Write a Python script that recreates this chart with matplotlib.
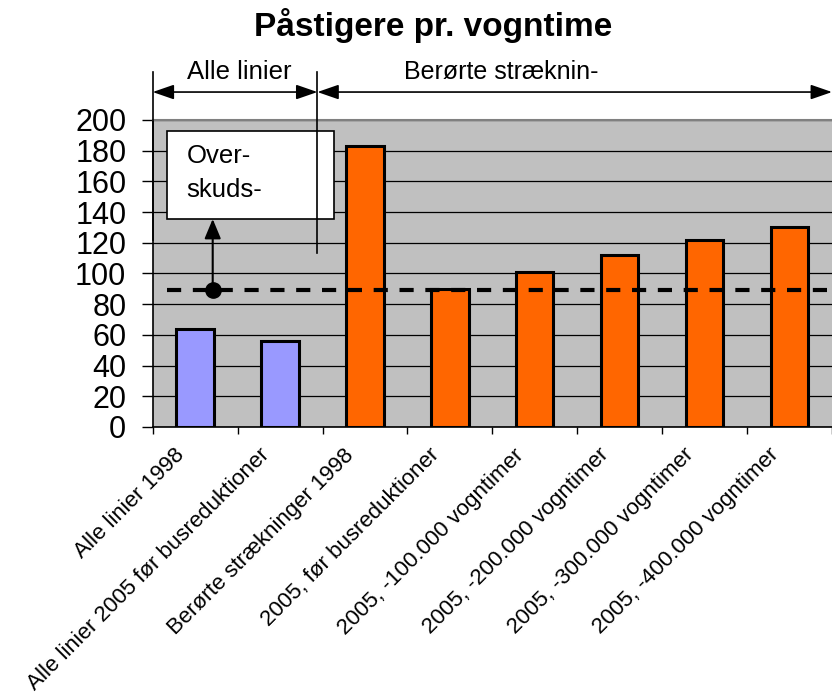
import numpy as np
import matplotlib
matplotlib.use("Agg")
import matplotlib.pyplot as plt
from matplotlib.transforms import ScaledTranslation

plt.rcParams['font.family'] = ['Liberation Sans', 'DejaVu Sans']

# data
labels = ["Alle linier 1998", "Alle linier 2005 før busreduktioner",
          "Berørte strækninger 1998", "2005, før busreduktioner",
          "2005, -100.000 vogntimer", "2005, -200.000 vogntimer",
          "2005, -300.000 vogntimer", "2005, -400.000 vogntimer"]
values = [64, 56, 183, 90, 101, 112, 122, 130]
colors = ["#9999FF", "#9999FF"] + ["#FF6600"] * 6
threshold = 89

fig = plt.figure(figsize=(8.32, 7), dpi=100)
ax = fig.add_axes([0.1835, 0.39, 0.8165, 0.4386])
ax.set_facecolor("#C0C0C0")

x = np.arange(len(values))
ax.bar(x, values, width=0.44, color=colors, edgecolor="black", linewidth=2.2, zorder=3)

ax.set_xlim(-0.5, 7.5)
ax.set_ylim(0, 200)
ax.set_yticks(range(0, 201, 20))
ax.yaxis.grid(True, color="black", linewidth=0.9, zorder=0)
ax.set_axisbelow(True)
ax.tick_params(axis="y", labelsize=22, length=8, width=1, direction="out", pad=11)

# category boundaries as ticks, labels in centre
ax.set_xticks(np.arange(-0.5, 7.6, 1))
ax.set_xticklabels([])
ax.tick_params(axis="x", length=5, width=1, direction="out")
ax.set_xticks(x, minor=True)
ax.set_xticklabels(labels, minor=True, rotation=45, ha="right", va="center",
                   rotation_mode="anchor", fontsize=16)
ax.tick_params(axis="x", which="minor", length=0, pad=18)
for lbl in ax.get_xticklabels(minor=True):
    lbl.set_transform(lbl.get_transform() + ScaledTranslation(-10 / 72, 0, fig.dpi_scale_trans))

ax.spines["right"].set_visible(False)
ax.spines["top"].set_color("#808080")
ax.spines["top"].set_linewidth(1.5)
ax.spines["left"].set_linewidth(1.2)
ax.spines["bottom"].set_linewidth(1.2)

# dashed threshold line
ax.plot([-0.33, 7.5], [threshold, threshold], color="black", lw=3,
        dashes=(3.4, 2.8), zorder=4, clip_on=False)
ax.plot([0.207], [threshold], "o", color="black", ms=11, zorder=5)

# arrow from dot up to box
ax.annotate("", xy=(0.207, 135.5), xytext=(0.207, threshold),
            arrowprops=dict(arrowstyle="-|>,head_length=1.2,head_width=0.5",
                            color="black", lw=1.5, shrinkA=0, shrinkB=0), zorder=5)

# text box
ax.add_patch(plt.Rectangle((-0.336, 135.5), 1.97, 57.3, facecolor="white",
                           edgecolor="black", lw=1.2, zorder=6))
ax.text(-0.1, 172, "Over-", fontsize=18.5, ha="left", va="baseline", zorder=7)
ax.text(-0.1, 149.8, "skuds-", fontsize=18.5, ha="left", va="baseline", zorder=7)

# brackets above the plot
for xv, ybot in [(-0.5, 121.8), (1.44, 113.4)]:
    ax.plot([xv, xv], [231.3, ybot], color="black", lw=1.2, clip_on=False, zorder=8)

arr = dict(arrowstyle="<|-|>,head_length=1.3,head_width=0.45", color="black",
           lw=1.2, shrinkA=0, shrinkB=0)
ax.annotate("", xy=(-0.5, 218.2), xytext=(1.44, 218.2), arrowprops=arr,
            annotation_clip=False)
ax.annotate("", xy=(1.44, 218.2), xytext=(7.5, 218.2), arrowprops=arr,
            annotation_clip=False)
ax.text(0.52, 227, "Alle linier", fontsize=18.5, ha="center", va="baseline")
ax.text(3.6, 227, "Berørte stræknin-", fontsize=18, ha="center", va="baseline")

fig.text(0.521, 0.963, "Påstigere pr. vogntime", fontsize=24, fontweight="bold",
         ha="center", va="center")

fig.savefig("out.png", dpi=100)
